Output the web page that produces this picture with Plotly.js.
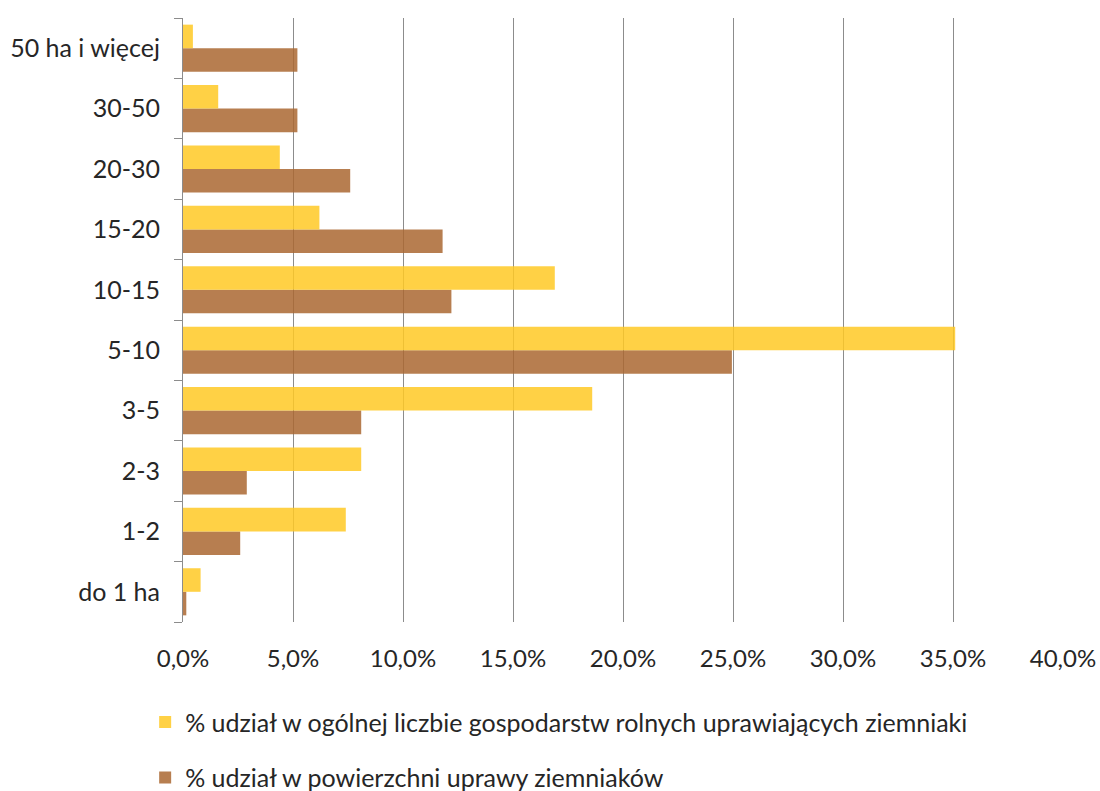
<!DOCTYPE html>
<html>
<head>
<meta charset="utf-8">
<script src="https://cdn.plot.ly/plotly-3.0.1.min.js"></script>
<style>html,body{margin:0;padding:0;background:#fff;}#chart{width:1100px;height:791px;}</style>
</head>
<body>
<div id="chart"></div>
<script>
const categories = ["do 1 ha","1-2","2-3","3-5","5-10","10-15","15-20","20-30","30-50","50 ha i więcej"];
const farmsShare = [0.8, 7.4, 8.1, 18.6, 35.1, 16.9, 6.2, 4.4, 1.6, 0.45];
const areaShare = [0.15, 2.6, 2.9, 8.1, 24.95, 12.2, 11.8, 7.6, 5.2, 5.2];
const seriesNames = ["% udział w ogólnej liczbie gospodarstw rolnych uprawiających ziemniaki", "% udział w powierzchni uprawy ziemniaków"];
const xTicks = [0,5,10,15,20,25,30,35,40];
const xTickText = xTicks.map(v => v.toFixed(1).replace('.', ',') + '%');

const FONT = 'Lato, "DejaVu Sans Condensed", sans-serif';

const traces = [
  {type:'bar', orientation:'h', name: seriesNames[1], y: categories, x: areaShare,
   marker:{color:'rgba(170,103,49,0.85)', line:{width:0}}, legendrank:2, legendgroup:'b', hoverinfo:'x+y'},
  {type:'bar', orientation:'h', name: seriesNames[0], y: categories, x: farmsShare,
   marker:{color:'rgba(255,201,36,0.85)', line:{width:0}}, legendrank:1, legendgroup:'a', hoverinfo:'x+y'}
];

const layout = {
  width:1100, height:791,
  margin:{l:183, r:37, t:18, b:169, autoexpand:false},
  paper_bgcolor:'#fff', plot_bgcolor:'#fff',
  barmode:'group', bargap:0.22, bargroupgap:0,
  font:{family:FONT, size:25, color:'#262626'},
  xaxis:{range:[0,40], tickmode:'array', tickvals:xTicks, ticktext:xTickText,
    showgrid:true, gridcolor:'#8c8c8c', gridwidth:1, zeroline:false, showline:false,
    ticks:'', ticklabelstandoff:20, tickfont:{family:FONT, size:24, color:'#262626'}},
  yaxis:{type:'category', showline:true, linecolor:'#8c8c8c', linewidth:1,
    ticks:'outside', ticklen:8, tickcolor:'#8c8c8c', tickson:'boundaries',
    showgrid:false, zeroline:false, ticklabelstandoff:17,
    tickfont:{family:FONT, size:25, color:'#262626'}},
  showlegend:true,
  legend:{orientation:'v', x:-0.043, xanchor:'left', y:-0.128, yanchor:'top',
    traceorder:'grouped', tracegroupgap:20, itemwidth:30,
    font:{family:FONT, size:25, color:'#262626'}, bgcolor:'rgba(0,0,0,0)'}
};

Plotly.newPlot('chart', traces, layout, {displayModeBar:false, staticPlot:true});
</script>
</body>
</html>
